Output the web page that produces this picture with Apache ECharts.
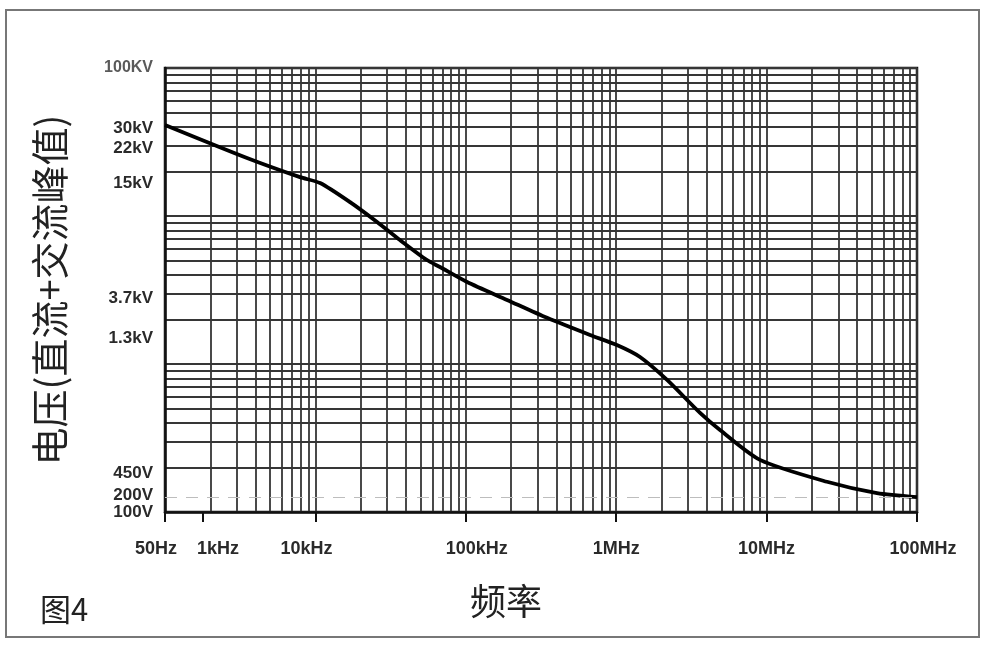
<!DOCTYPE html>
<html>
<head>
<meta charset="utf-8">
<script src="https://cdn.jsdelivr.net/npm/echarts@6/dist/echarts.min.js"></script>
<style>
  html, body { margin: 0; padding: 0; background: #fff; }
  #chart { width: 988px; height: 648px; }
</style>
</head>
<body>
<div id="chart"></div>
<script>
// 频率 (Hz) / 电压 (V)
var freq = [1000, 3510, 7900, 10740, 17000, 25700, 36500, 55200, 67300, 102000, 188000, 347000,
  670000, 1010000, 1440000, 2180000, 3610000, 4900000, 9040000, 25200000, 54200000, 100000000]
var volt = [41200, 24650, 18300, 16700, 12400, 9110, 6880, 5040, 4520, 3580, 2710, 2050,
  1570, 1343, 1115, 780, 467, 358, 225, 160, 134, 126]

// tick labels, at the spots where the figure prints them
var xTickPos = [1000, 1790, 1e4, 1e5, 1e6, 1e7, 1e8]
var xTickText = ['50Hz', '1kHz', '10kHz', '100kHz', '1MHz', '10MHz', '100MHz']
var xTickShift = [-9, 15, -9, 11, 0, 0, 6]
var yTickPos = [100000, 39300, 28800, 16700, 2790, 1500, 183, 130, 100]
var yTickText = ['100KV', '30kV', '22kV', '15kV', '3.7kV', '1.3kV', '450V', '200V', '100V']
var dashLevel = 126

// log grid lines 1,2,...,9 per decade
function logGrid(lo, hi) {
  var out = []
  for (var d = lo; d < hi; d *= 10) {
    for (var k = 1; k < 10; k++) out.push(d * k)
  }
  out.push(hi)
  return out
}

function pickIdx(pos, v) {
  var best = 0
  for (var i = 1; i < pos.length; i++) {
    if (Math.abs(Math.log(pos[i] / v)) < Math.abs(Math.log(pos[best] / v))) best = i
  }
  return best
}

var data = []
for (var i = 0; i < freq.length; i++) data.push([freq[i], volt[i]])

// one rich style per x label so each can sit a little off its tick
var xRich = {}
xTickShift.forEach(function (s, i) {
  xRich['x' + i] = {
    fontFamily: 'Liberation Sans', fontSize: 18, fontWeight: 'bold', color: '#2a2a2a',
    padding: s > 0 ? [0, 0, 0, 2 * s] : [0, -2 * s, 0, 0]
  }
})

var chart = echarts.init(document.getElementById('chart'))
var gridLine = { show: true, lineStyle: { color: '#363636', width: 1.8 } }

chart.setOption({
  animation: false,
  grid: { left: 165, right: 71, top: 68, bottom: 136, show: true, borderColor: '#111', borderWidth: 2.5 },
  xAxis: [{
    type: 'log', min: 1000, max: 1e8,
    axisLine: { lineStyle: { color: '#111', width: 2.5 } },
    axisTick: { show: false, customValues: logGrid(1000, 1e8) },
    splitLine: gridLine,
    axisLabel: {
      customValues: xTickPos, margin: 28, hideOverlap: false,
      formatter: function (v) {
        var k = pickIdx(xTickPos, v)
        return '{x' + k + '|' + xTickText[k] + '}'
      },
      rich: xRich
    }
  }, {
    type: 'log', min: 1000, max: 1e8, position: 'bottom',
    axisLine: { show: false },
    axisTick: { show: true, customValues: xTickPos, length: 10, lineStyle: { color: '#111', width: 2 } },
    splitLine: { show: false },
    axisLabel: { show: false }
  }],
  yAxis: {
    type: 'log', min: 100, max: 100000,
    name: '电压(直流+交流峰值)', nameLocation: 'middle', nameRotate: 90, nameGap: 96,
    nameTextStyle: { fontFamily: 'Noto Sans CJK SC', fontSize: 38, color: '#222' },
    axisLine: { show: true, lineStyle: { color: '#111', width: 2.5 } },
    axisTick: { show: false, customValues: logGrid(100, 100000) },
    splitLine: gridLine,
    axisLabel: {
      customValues: yTickPos, margin: 12, hideOverlap: false,
      fontFamily: 'Liberation Sans', fontSize: 17, fontWeight: 'bold', color: '#2a2a2a',
      lineHeight: 17,
      formatter: function (v) {
        var t = yTickText[pickIdx(yTickPos, v)]
        return t === '100KV' ? '{s|' + t + '}' : t
      },
      rich: { s: { fontFamily: 'Liberation Sans', fontSize: 16, fontWeight: 'bold', color: '#5a5a5a' } }
    }
  },
  series: [{
    type: 'line', data: data, showSymbol: false, smooth: 0.25,
    lineStyle: { color: '#000', width: 3.8 },
    markLine: {
      silent: true, symbol: 'none', label: { show: false },
      lineStyle: { color: '#bdbdbd', type: [12, 9], width: 1.2 },
      data: [{ yAxis: dashLevel }]
    }
  }],
  graphic: [
    { type: 'rect', shape: { x: 6, y: 10, width: 973, height: 627 },
      style: { fill: 'none', stroke: '#777', lineWidth: 2 } },
    { type: 'text', left: 470, top: 583,
      style: { text: '频率', font: '36px "Noto Sans CJK SC"', fill: '#222' } },
    { type: 'text', left: 40, top: 594,
      style: { text: '图4', font: '31px "Noto Sans CJK SC"', fill: '#222' } }
  ]
})
</script>
</body>
</html>
